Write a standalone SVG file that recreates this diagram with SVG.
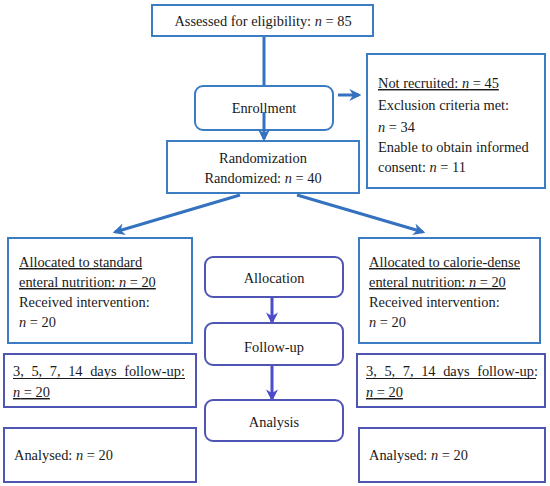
<svg xmlns="http://www.w3.org/2000/svg" width="550" height="486" viewBox="0 0 550 486" font-family="'Liberation Serif', 'Times New Roman', serif">
<style>
text{font-family:"Liberation Serif","Times New Roman",serif;font-size:14.4px;fill:#1a1a1a}
.c{text-anchor:middle}
.u{text-decoration:underline}
.i{font-style:italic}
.bx{fill:#fff;stroke:#3b7cc2;stroke-width:2}
.bp{fill:#fff;stroke:#4f55b3;stroke-width:2}
.rb{fill:#fff;stroke:#3b7cc2;stroke-width:2}
.rp{fill:#fff;stroke:#5055b5;stroke-width:2}
.ab{stroke:#3472bf;stroke-width:3;fill:none}
.ap{stroke:#4a4ccc;stroke-width:3;fill:none}
.ul{stroke:#1a1a1a;stroke-width:1}
</style>
<defs>
<marker id="mb" viewBox="0 0 10 10" refX="8" refY="5" markerWidth="4" markerHeight="4" orient="auto" markerUnits="strokeWidth">
<path d="M0,0 L10,5 L0,10 L3,5 Z" fill="#3472bf"/>
</marker>
<marker id="mp" viewBox="0 0 10 10" refX="8" refY="5" markerWidth="4" markerHeight="4" orient="auto" markerUnits="strokeWidth">
<path d="M0,0 L10,5 L0,10 L3,5 Z" fill="#4a4ccc"/>
</marker>
</defs>
<rect width="550" height="486" fill="#fff"/>
<g id="connectors">
<line class="ab" x1="264" y1="36" x2="264" y2="87"/>
<line class="ap" x1="272" y1="297" x2="272" y2="322" marker-end="url(#mp)"/>
<line class="ap" x1="272" y1="365" x2="272" y2="399" marker-end="url(#mp)"/>
</g>
<g id="assessed">
<rect class="bx" x="152" y="5" width="221" height="31"/>
<text class="c" x="263" y="26">Assessed for eligibility: <tspan class="i">n</tspan> = 85</text>
</g>
<g id="enrollment">
<rect class="rb" x="195" y="86" width="138" height="44" rx="8"/>
<text class="c" x="264" y="113">Enrollment</text>
</g>
<g id="connectors2">
<line class="ab" x1="264" y1="112" x2="264" y2="139" marker-end="url(#mb)"/>
<line class="ab" x1="338" y1="95" x2="359" y2="95" marker-end="url(#mb)"/>
<line class="ab" x1="240" y1="195" x2="115" y2="232" marker-end="url(#mb)"/>
<line class="ab" x1="297" y1="195" x2="423" y2="232" marker-end="url(#mb)"/>
</g>
<g id="not-recruited">
<rect class="bx" x="367" y="54" width="178" height="134"/>
<text x="378" y="88"><tspan class="u">Not recruited: <tspan class="i">n</tspan> = 45</tspan></text>
<text x="378" y="110">Exclusion criteria met:</text>
<text x="378" y="132"><tspan class="i">n</tspan> = 34</text>
<text x="378" y="152">Enable to obtain informed</text>
<text x="378" y="172">consent: <tspan class="i">n</tspan> = 11</text>
</g>
<g id="randomization">
<rect class="bx" x="167" y="141" width="192" height="52"/>
<text class="c" x="263" y="163">Randomization</text>
<text class="c" x="263" y="183">Randomized: <tspan class="i">n</tspan> = 40</text>
</g>
<g id="alloc-standard">
<rect class="bx" x="8" y="238" width="184" height="105"/>
<text x="19" y="267" class="u">Allocated to standard </text>
<text x="19" y="287" class="u">enteral nutrition: <tspan class="i">n</tspan> = 20</text>
<text x="19" y="307">Received intervention:</text>
<text x="19" y="327"><tspan class="i">n</tspan> = 20</text>
</g>
<g id="alloc-dense">
<rect class="bx" x="359" y="238" width="181" height="105"/>
<text x="369" y="267" class="u">Allocated to calorie-dense</text>
<text x="369" y="287" class="u">enteral nutrition: <tspan class="i">n</tspan> = 20</text>
<text x="369" y="307">Received intervention:</text>
<text x="369" y="327"><tspan class="i">n</tspan> = 20</text>
</g>
<g id="allocation">
<rect class="rp" x="205" y="257" width="138" height="40" rx="8"/>
<text class="c" x="274" y="283">Allocation</text>
</g>
<g id="follow-up">
<rect class="rp" x="205" y="323" width="138" height="42" rx="8"/>
<text class="c" x="274" y="352">Follow-up</text>
</g>
<g id="analysis">
<rect class="rp" x="205" y="400" width="138" height="41" rx="8"/>
<text class="c" x="274" y="427">Analysis</text>
</g>
<g id="followup-left">
<rect class="bp" x="4" y="354" width="192" height="53"/>
<text x="13" y="376" word-spacing="4">3, 5, 7, 14 days follow-up:</text>
<line class="ul" x1="13" y1="378.5" x2="185" y2="378.5"/>
<text x="13" y="397" class="u"><tspan class="i">n</tspan> = 20</text>
</g>
<g id="followup-right">
<rect class="bp" x="357" y="354" width="188" height="53"/>
<text x="366" y="376" word-spacing="4">3, 5, 7, 14 days follow-up:</text>
<line class="ul" x1="366" y1="378.5" x2="536" y2="378.5"/>
<text x="366" y="397" class="u"><tspan class="i">n</tspan> = 20</text>
</g>
<g id="analysed-left">
<rect class="bp" x="4" y="428" width="192" height="54"/>
<text x="14" y="460">Analysed: <tspan class="i">n</tspan> = 20</text>
</g>
<g id="analysed-right">
<rect class="bp" x="359" y="428" width="186" height="54"/>
<text x="369" y="460">Analysed: <tspan class="i">n</tspan> = 20</text>
</g>
</svg>
